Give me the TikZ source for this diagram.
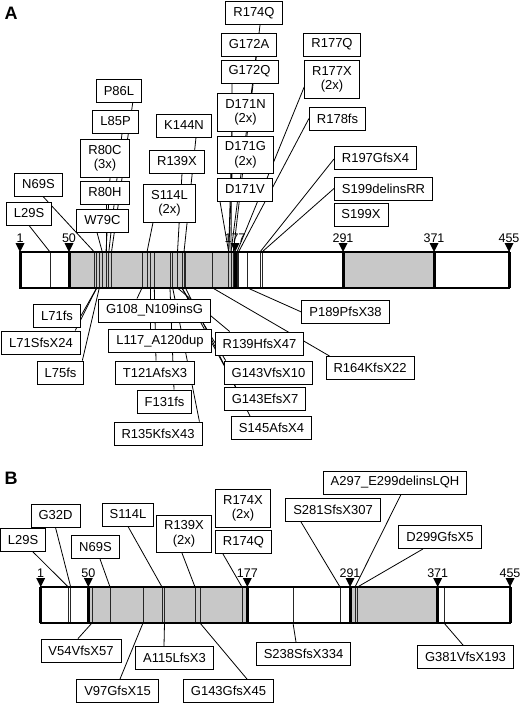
\documentclass[tikz,border=0pt]{standalone}
\usepackage{fontspec}
\setmainfont{Liberation Sans}
\pgfdeclarelayer{bg}
\pgfsetlayers{bg,main}
\definecolor{barfill}{RGB}{200,200,200}
\tikzset{
 lbl/.style={draw, fill=white, line width=0.9pt, font=\fontsize{13}{14.5}\selectfont, inner xsep=7.5pt, inner ysep=5.5pt, minimum height=23pt, align=center},
 connline/.style={line width=0.8pt},
 mutline/.style={line width=0.8pt, black!85},
 outline/.style={line width=2pt},
 markline/.style={line width=3pt},
 posnum/.style={font=\fontsize{12.5}{12.5}\selectfont, inner sep=0pt},
 panellbl/.style={font=\fontsize{18}{18}\selectfont\bfseries, inner sep=0pt}
}
\begin{document}
\begin{tikzpicture}[x=1pt,y=-1pt]
\useasboundingbox (0,0) rectangle (520,707);

% ---------------- Panel A ----------------
\node[panellbl] (labA) at (11,13) {A};
\fill[white] (20,252) rectangle (509,288);
\fill[barfill] (69,252) rectangle (235,288);
\fill[barfill] (343,252) rectangle (434,288);
\foreach \n/\x in {29/50,69/94.3,71/96.7,75/99.3,79/102.3,80/106,85/108.8,86/111.5,108/142,114/147,117/150,121/154.3,131/170,135/172.7,139/177.5,143/182,144/184,145/185.5,164/212.7,171/228.7,172/231,174/233.3,177/237,178/238.5,189/247.7,197/260,199/262}{
  \coordinate (aT\n) at (\x,252);
  \coordinate (aB\n) at (\x,288);
  \draw[mutline] (aT\n) -- (aB\n);
}
\draw[outline] (20,252) rectangle (509,288);
\foreach \x/\l in {20/1,69/50,235/177,343/291,434/371,509/455}{
  \draw[markline] (\x,252) -- (\x,288);
  \fill (\x,252) -- (\x-4.5,243) -- (\x+4.5,243) -- cycle;
  \node[posnum] (pA\l) at (\x,238) {\l};
}

% top labels A
\node[lbl] (L29S) at (29,213.5) {L29S};
\node[lbl] (N69S) at (38.5,184.5) {N69S};
\node[lbl] (W79C) at (102.5,220.5) {W79C};
\node[lbl] (R80H) at (105,192.5) {R80H};
\node[lbl] (R80C) at (105,158.5) {R80C\\(3x)};
\node[lbl] (L85P) at (115.5,121.5) {L85P};
\node[lbl] (P86L) at (119,91) {P86L};
\node[lbl] (K144N) at (184,125.5) {K144N};
\node[lbl] (R139X) at (177,161.5) {R139X};
\node[lbl] (S114L) at (169.5,203.5) {S114L\\(2x)};
\node[lbl] (R174Q) at (254,13) {R174Q};
\node[lbl] (G172A) at (249,44.5) {G172A};
\node[lbl] (G172Q) at (249.5,71.5) {G172Q};
\node[lbl] (D171N) at (245.5,112.5) {D171N\\(2x)};
\node[lbl] (D171G) at (245.5,155) {D171G\\(2x)};
\node[lbl] (D171V) at (245,189.5) {D171V};
\node[lbl] (R177Q) at (332,44.5) {R177Q};
\node[lbl] (R177X) at (332,79.5) {R177X\\(2x)};
\node[lbl] (R178fs) at (337.5,118.5) {R178fs};
\node[lbl] (R197) at (375.5,157.5) {R197GfsX4};
\node[lbl] (S199d) at (383.5,188.5) {S199delinsRR};
\node[lbl] (S199X) at (361,214.5) {S199X};

% bottom labels A
\node[lbl] (L71fs) at (57,316) {L71fs};
\node[lbl] (L71S) at (41,342.5) {L71SfsX24};
\node[lbl] (L75fs) at (60.5,372.5) {L75fs};
\node[lbl] (G108) at (154.5,310.5) {G108\_N109insG};
\node[lbl] (L117) at (160,341) {L117\_A120dup};
\node[lbl] (T121) at (155,372.5) {T121AfsX3};
\node[lbl] (F131) at (164.5,401.5) {F131fs};
\node[lbl] (R135) at (158,433.5) {R135KfsX43};
\node[lbl] (R139H) at (259.5,343.5) {R139HfsX47};
\node[lbl] (G143V) at (268.5,372.5) {G143VfsX10};
\node[lbl] (G143E) at (265,399) {G143EfsX7};
\node[lbl] (S145) at (271.5,428) {S145AfsX4};
\node[lbl] (P189) at (345.5,312) {P189PfsX38};
\node[lbl] (R164) at (370,368) {R164KfsX22};

\begin{pgfonlayer}{bg}
\draw[connline] (L29S.south) -- (aT29);
\draw[connline] ([xshift=4.5pt]N69S.south) -- (aT69);
\draw[connline] ([xshift=-5.5pt]W79C.south) -- (aT79);
\draw[connline] ([xshift=1pt]R80H.south) -- (aT80);
\draw[connline] ([xshift=5pt]R80C.south) -- (aT80);
\draw[connline] ([xshift=6.5pt]L85P.south) -- (aT85);
\draw[connline] ([xshift=13.7pt]P86L.south) -- (aT86);
\draw[connline] ([xshift=-16.5pt]S114L.south) -- (aT114);
\draw[connline] ([xshift=5pt]R139X.south) -- (aT139);
\draw[connline] ([xshift=12pt]K144N.south) -- (aT144);
\draw[connline] ([xshift=-25pt]D171V.south) -- (aT171);
\draw[connline] ([xshift=-13.5pt]D171G.south) -- (aT171);
\draw[connline] ([xshift=-13.5pt]D171N.south) -- (aT171);
\draw[connline] ([xshift=-17.5pt]G172Q.south) -- (aT172);
\draw[connline] ([xshift=7pt]G172A.south) -- (aT172);
\draw[connline] ([xshift=6pt]R174Q.south) -- (aT174);
\draw[connline] ([yshift=-7.5pt]R177X.west) -- (aT177);
\draw[connline] (R178fs.west) -- (aT178);
\draw[connline] ([yshift=-1.5pt]R197.west) -- (aT197);
\draw[connline] (S199d.west) -- (aT199);
% bottom
\draw[connline] (L71fs.east) -- (aB71);
\draw[connline] ([xshift=-5.5pt]L71S.north east) -- (aB71);
\draw[connline] ([xshift=-2pt]L75fs.north east) -- (aB75);
\draw[connline] ([xshift=-17.5pt]G108.north) -- (aB108);
\draw[connline] ([xshift=-10pt]L117.north) -- (aB117);
\draw[connline] ([xshift=1pt]T121.north) -- (aB121);
\draw[connline] ([xshift=9.5pt]F131.north) -- (aB131);
\draw[connline] ([xshift=-3pt]R135.north east) -- (aB135);
\draw[connline] ([xshift=15pt]R139H.north west) -- (aB139);
\draw[connline] ([xshift=2pt]G143V.north west) -- (aB143);
\draw[connline] ([xshift=12pt]G143E.north west) -- (aB143);
\draw[connline] ([xshift=19pt]S145.north west) -- (aB145);
\draw[connline] ([xshift=4pt]R164.north west) -- (aB164);
\draw[connline] (P189.west) -- (aB189);
\end{pgfonlayer}

% ---------------- Panel B ----------------
\node[panellbl] (labB) at (11,478.5) {B};
\fill[white] (40.7,587) rectangle (510,623);
\fill[barfill] (88.3,587) rectangle (247.3,623);
\fill[barfill] (350,587) rectangle (437.7,623);
\foreach \n/\x in {29/68.3,32/70.7,54/92,69/110,97/143,114/162,115/164.5,139/195,143/200,174/242,238/293,281/340,297/355,299/357.5,381/444}{
  \coordinate (bT\n) at (\x,587);
  \coordinate (bB\n) at (\x,623);
  \draw[mutline] (bT\n) -- (bB\n);
}
\draw[outline] (40.7,587) rectangle (510,623);
\foreach \x/\l in {40.7/1,88.3/50,247.3/177,350/291,437.7/371,510/455}{
  \draw[markline] (\x,587) -- (\x,623);
  \fill (\x,587) -- (\x-4.5,578) -- (\x+4.5,578) -- cycle;
  \node[posnum] (pB\l) at (\x,573) {\l};
}

\node[lbl] (bL29S) at (23,540) {L29S};
\node[lbl] (bG32D) at (55.5,515.5) {G32D};
\node[lbl] (bN69S) at (95.5,547) {N69S};
\node[lbl] (bS114L) at (128,514.5) {S114L};
\node[lbl] (bR139X) at (184,534) {R139X\\(2x)};
\node[lbl] (bR174X) at (243,508.5) {R174X\\(2x)};
\node[lbl] (bR174Q) at (243.5,542) {R174Q};
\node[lbl] (bA297) at (395,482.5) {A297\_E299delinsLQH};
\node[lbl] (bS281) at (333,510) {S281SfsX307};
\node[lbl] (bD299) at (440,537) {D299GfsX5};
\node[lbl] (bV54) at (81,650.5) {V54VfsX57};
\node[lbl] (bA115) at (174.5,658) {A115LfsX3};
\node[lbl] (bV97) at (117.5,691) {V97GfsX15};
\node[lbl] (bG143) at (228.5,691) {G143GfsX45};
\node[lbl] (bS238) at (303.5,654) {S238SfsX334};
\node[lbl] (bG381) at (465.5,657) {G381VfsX193};

\begin{pgfonlayer}{bg}
\draw[connline] ([xshift=10pt]bL29S.south) -- (bT29);
\draw[connline] (bG32D.south) -- (bT32);
\draw[connline] ([xshift=4.5pt]bN69S.south) -- (bT69);
\draw[connline] (bS114L.south) -- (bT114);
\draw[connline] ([xshift=-2pt]bR139X.south) -- (bT139);
\draw[connline] ([xshift=8pt]bR174Q.south west) -- (bT174);
\draw[connline] ([xshift=-32pt]bS281.south) -- (bT281);
\draw[connline] ([xshift=6pt]bA297.south) -- (bT297);
\draw[connline] ([xshift=-17pt]bD299.south) -- (bT299);
\draw[connline] ([xshift=-3pt]bV54.north) -- (bB54);
\draw[connline] ([xshift=-10.5pt]bA115.north) -- (bB115);
\draw[connline] ([xshift=2.5pt]bV97.north) -- (bB97);
\draw[connline] ([xshift=18.5pt]bG143.north) -- (bB143);
\draw[connline] ([xshift=-7.5pt]bS238.north) -- (bB238);
\draw[connline] ([xshift=-2.5pt]bG381.north) -- (bB381);
\end{pgfonlayer}
\end{tikzpicture}
\end{document}
